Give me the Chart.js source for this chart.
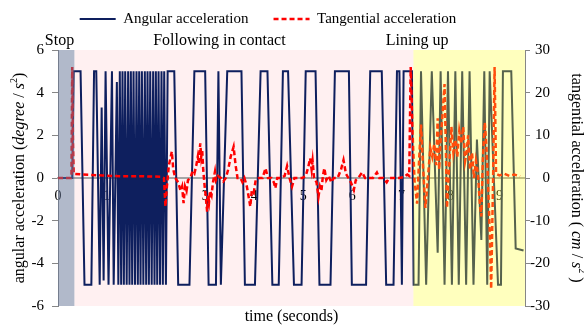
<!DOCTYPE html>
<html>
<head>
<meta charset="utf-8">
<script src="https://cdn.jsdelivr.net/npm/chart.js@4.4.1/dist/chart.umd.min.js"></script>
<style>
  body { margin: 0; background: #fff; }
  #wrap { width: 584px; height: 326px; }
</style>
</head>
<body>
<div id="wrap"><canvas id="chart"></canvas></div>
<script>
// ==============================
// DATA  (time in seconds)
// ==============================
// angular acceleration, degree / s^2  [t, value]
const angularSeries = [
    [0, 0], [0.29, 0], [0.32, 5], [0.46, 5], [0.54, -5], [0.68, -5], [0.735, 5], [0.78, 5],
    [0.85, -5], [0.89, 3.3], [0.93, -4.8], [0.97, 5], [1.03, -5], [1.10, 5], [1.135, -5],
    [1.20, 4.5], [1.23, -5],
    [1.26, 5], [1.2875, -5], [1.315, 5], [1.3425, -5], [1.37, 5], [1.40, -5], [1.43, 5],
    [1.4575, -5], [1.485, 5], [1.5125, -5], [1.54, 5], [1.57, -5], [1.60, 5], [1.6275, -5],
    [1.655, 5], [1.6825, -5], [1.71, 5], [1.74, -5], [1.77, 5], [1.7975, -5], [1.825, 5],
    [1.8525, -5], [1.88, 5], [1.91, -5], [1.94, 5], [1.9675, -5], [1.995, 5], [2.0225, -5],
    [2.05, 5], [2.08, -5], [2.11, 5], [2.1375, -5], [2.165, 5], [2.20, -5],
    [2.235, 5], [2.37, 5], [2.45, -5], [2.68, -5], [2.78, 5], [3.0, 5], [3.07, -5], [3.22, -5],
    [3.27, 5], [3.32, -5], [3.45, 5], [3.74, 5], [3.81, -5], [4.015, -5], [4.13, 5], [4.27, 5],
    [4.37, -5], [4.5, -5], [4.585, 5], [4.69, 5], [4.81, -5], [4.965, -5], [5.05, 5], [5.25, 5],
    [5.33, -5], [5.555, -5], [5.645, 5], [5.93, 5], [5.99, -5], [6.28, -5], [6.365, 5], [6.6, 5],
    [6.69, -5], [6.84, -5], [6.91, 5], [6.96, 5], [7.01, -5], [7.045, 5], [7.215, 5], [7.25, -5],
    [7.35, -5], [7.40, 5], [7.505, -5], [7.62, 5], [7.74, -3.5], [7.80, 5], [7.88, -5], [7.95, 5],
    [8.03, -5], [8.10, 5], [8.17, -5], [8.24, 5], [8.32, -5], [8.39, 5], [8.47, -5], [8.54, 1.8],
    [8.63, -2.9], [8.69, 5], [8.75, -5], [8.80, 5], [8.97, -5], [9.03, -5], [9.07, 5], [9.24, 5],
    [9.33, -3.3], [9.49, -3.4]
];

// tangential acceleration, cm / s^2  [t, value]
const tangentialSeries = [
    [0, 0], [0.26, 0], [0.275, 1], [0.29, 26], [0.305, 8], [0.32, 1], [0.5, 0.8], [0.9, 0.6],
    [1.3, 0.4], [1.7, 0.4], [2.1, 0.3], [2.16, 0], [2.19, -6.7], [2.22, -2], [2.26, 3], [2.29, 4.5],
    [2.32, 6.2], [2.35, 2], [2.39, 0], [2.45, -1], [2.5, -3], [2.53, -2], [2.56, -5.9], [2.59, -2],
    [2.62, -3], [2.65, -0.5], [2.7, 0], [2.74, 1.5], [2.78, 1], [2.82, 3], [2.85, 5], [2.87, 3.5],
    [2.9, 8.1], [2.92, 5], [2.94, 6.5], [2.96, 2], [2.99, -2], [3.01, -4], [3.04, -7.9], [3.06, -4],
    [3.08, -5.5], [3.1, -3], [3.13, -4], [3.16, -1], [3.2, 1.5], [3.22, -0.5], [3.26, 0.5], [3.32, 0],
    [3.37, -0.8], [3.42, 0], [3.47, 2], [3.52, 5], [3.58, 7.3], [3.62, 3], [3.66, 0], [3.72, 0],
    [3.76, -1], [3.8, 0], [3.85, -2], [3.88, -4], [3.92, -6.7], [3.95, -3], [3.99, -3.5], [4.03, -0.5],
    [4.1, 0], [4.17, 0], [4.23, 2.3], [4.28, 0], [4.35, 0], [4.4, -1], [4.43, -2.4], [4.47, 0],
    [4.55, 0], [4.62, 0.5], [4.67, 2.8], [4.72, 0], [4.77, -2], [4.82, 0], [4.9, 0], [4.98, 0],
    [5.05, 0.5], [5.1, 2.5], [5.14, 4.6], [5.17, 2], [5.19, 4], [5.22, 0], [5.27, -1], [5.31, -4.4],
    [5.34, -2], [5.37, -3], [5.4, 0.5], [5.43, 2.3], [5.47, -0.5], [5.52, 0.5], [5.57, -1], [5.62, 0],
    [5.7, 0], [5.77, 2], [5.82, 4.2], [5.87, 1], [5.92, 0], [5.97, -1], [6.03, -2.8], [6.07, -0.5],
    [6.12, 0], [6.2, 1.3], [6.26, 0], [6.35, 0], [6.42, 0], [6.5, 1.3], [6.55, 0], [6.63, 0],
    [6.7, -1], [6.75, 0], [6.85, 0], [6.95, 0], [7.05, 0.2], [7.12, 0.8], [7.16, 0.5], [7.19, 26],
    [7.23, 10], [7.27, -1], [7.32, -6], [7.36, 4], [7.40, 12.5], [7.44, 3], [7.49, -7], [7.54, 0],
    [7.59, 7], [7.63, 5], [7.67, 8], [7.71, 3], [7.74, 14], [7.77, 2], [7.80, 9], [7.84, 15],
    [7.88, 22], [7.91, 5], [7.93, -7], [7.97, 2], [8.02, 12], [8.06, 6], [8.10, 9], [8.14, 5],
    [8.18, 11], [8.22, 8], [8.26, 12], [8.30, 4], [8.33, 6], [8.36, 10], [8.40, 2], [8.44, 6],
    [8.48, 0], [8.52, 4], [8.56, 1], [8.60, -6], [8.63, -9], [8.66, 4], [8.70, 13], [8.73, 8],
    [8.76, 1], [8.80, -12], [8.83, -26], [8.87, 0], [8.90, 26], [8.93, 1], [9.0, 0.6], [9.1, 1],
    [9.2, 0.5], [9.3, 0.8], [9.42, 0.4]
];

// motion phases
const phaseNames = ["Stop", "Following in contact", "Lining up"];
const phaseStart = [0, 0.334, 7.245];
const phaseEnd = [0.334, 7.245, 9.52];
const phaseLabelAt = [0.03, 3.29, 7.32];

// axis ranges / ticks
const timeMax = 9.52;
const angTicks = [-6, 6, 2];     // min, max, step
const tanTicks = [-30, 30, 10];

// ==============================
// HELPERS
// ==============================
const SERIF = "'Liberation Serif', 'Times New Roman', serif";
const toXY = pts => pts.map(p => ({ x: p[0], y: p[1] }));

// text made of runs with their own font, centred on (x, y) and rotated
function drawRuns(ctx, runs, x, y, angle) {
    ctx.save();
    ctx.translate(x, y);
    ctx.rotate(angle);
    ctx.textAlign = "left";
    ctx.textBaseline = "alphabetic";
    ctx.fillStyle = "#000";
    let total = 0;
    runs.forEach(r => { ctx.font = r.font; total += ctx.measureText(r.text).width; });
    let cx = -total / 2;
    runs.forEach(r => {
        ctx.font = r.font;
        ctx.fillText(r.text, cx, 5.5 + (r.dy || 0));
        cx += ctx.measureText(r.text).width;
    });
    ctx.restore();
}

const N = "16px " + SERIF, I = "italic 16px " + SERIF, SUP = "10px " + SERIF;

const angTitle = [
    { text: "angular acceleration (", font: N },
    { text: "degree", font: I },
    { text: " / ", font: N },
    { text: "s", font: I },
    { text: "2", font: SUP, dy: -7 },
    { text: ")", font: N }
];
const tanTitle = [
    { text: "tangential acceleration ( ", font: N },
    { text: "cm", font: I },
    { text: " / ", font: N },
    { text: "s", font: I },
    { text: "2", font: SUP, dy: -7 },
    { text: " )", font: N }
];

// legend entries: dataset order, with the dataset's own dash and width
function legendLabels(chart) {
    const items = Chart.defaults.plugins.legend.labels.generateLabels(chart);
    items.forEach(it => {
        const ds = chart.data.datasets[it.datasetIndex];
        it.lineDash = ds.borderDash || [];
        it.lineWidth = ds.borderWidth;
        it.strokeStyle = ds.borderColor;
    });
    return items.sort((a, b) => a.datasetIndex - b.datasetIndex);
}

// ==============================
// PHASE SHADING + TITLES
// ==============================
const phasePlugin = {
    id: "phases",
    beforeDraw(chart) {
        // keep the legend line above the phase names
        const lg = chart.legend;
        lg.top = -13.5;
        lg.left = 0;
        lg.right = 536;

        const { ctx, chartArea: a, scales: { x } } = chart;
        const x0 = x.getPixelForValue(phaseStart[1]);
        const x1 = x.getPixelForValue(phaseEnd[1]);
        ctx.save();
        ctx.fillStyle = "#fff0f1";
        ctx.fillRect(x0, a.top, x1 - x0, a.bottom - a.top);
        ctx.restore();
    },
    afterDatasetsDraw(chart) {
        const { ctx, chartArea: a, scales: { x } } = chart;
        const tints = ["rgba(100,115,150,0.5)", null, "rgba(255,255,40,0.3)"];
        ctx.save();
        tints.forEach((c, i) => {
            if (!c) return;
            const x0 = x.getPixelForValue(phaseStart[i]);
            const x1 = x.getPixelForValue(phaseEnd[i]);
            ctx.fillStyle = c;
            ctx.fillRect(x0, a.top, x1 - x0, a.bottom - a.top);
        });
        ctx.restore();
    },
    afterDraw(chart) {
        const { ctx, chartArea: a, scales: { x } } = chart;
        ctx.save();
        ctx.fillStyle = "#000";
        ctx.font = "16px " + SERIF;
        ctx.textAlign = "center";
        ctx.textBaseline = "alphabetic";
        phaseNames.forEach((name, i) => {
            ctx.fillText(name, x.getPixelForValue(phaseLabelAt[i]), 45);
        });
        ctx.fillText("time (seconds)", (a.left + a.right) / 2, 321);
        ctx.restore();

        drawRuns(ctx, angTitle, 18, (a.top + a.bottom) / 2, -Math.PI / 2);
        drawRuns(ctx, tanTitle, 577, (a.top + a.bottom) / 2, Math.PI / 2);
    }
};

// ==============================
// CHART
// ==============================
Chart.defaults.font.family = SERIF;
Chart.defaults.color = "#000";

new Chart(document.getElementById("chart"), {
    type: "line",
    data: {
        datasets: [
            {
                label: "Angular acceleration",
                data: toXY(angularSeries),
                yAxisID: "y",
                borderColor: "#0e1f5e",
                borderWidth: 2,
                pointRadius: 0,
                tension: 0,
                order: 1
            },
            {
                label: "Tangential acceleration",
                data: toXY(tangentialSeries),
                yAxisID: "y2",
                borderColor: "#ff0000",
                borderWidth: 2.5,
                borderDash: [5, 3],
                pointRadius: 0,
                tension: 0,
                order: 0
            }
        ]
    },
    options: {
        responsive: true,
        maintainAspectRatio: false,
        animation: false,
        layout: { padding: { top: 0, left: 0, right: 34, bottom: 20 } },
        plugins: {
            tooltip: { enabled: false },
            legend: {
                position: "top",
                labels: {
                    usePointStyle: true,
                    pointStyle: "line",
                    pointStyleWidth: 36,
                    padding: 25,
                    font: { size: 15 },
                    color: "#000",
                    generateLabels: legendLabels
                }
            }
        },
        scales: {
            x: {
                type: "linear",
                position: { y: 0 },
                min: 0,
                max: timeMax,
                grid: { display: false, drawTicks: false },
                border: { display: true, color: "#a6a6a6", width: 2 },
                ticks: {
                    stepSize: 1,
                    includeBounds: false,
                    autoSkip: false,
                    maxRotation: 0,
                    padding: 10,
                    font: { size: 14 }
                }
            },
            y: {
                position: "left",
                min: angTicks[0],
                max: angTicks[1],
                afterFit(s) { s.width = 58; },
                grid: { drawOnChartArea: false, tickLength: 6, color: "#868686" },
                border: { color: "#868686" },
                ticks: { stepSize: angTicks[2], padding: 8, font: { size: 15 } }
            },
            y2: {
                position: "right",
                min: tanTicks[0],
                max: tanTicks[1],
                afterFit(s) { s.width = 25; },
                grid: { drawOnChartArea: false, tickLength: 5, color: "#868686" },
                border: { color: "#868686" },
                ticks: { stepSize: tanTicks[2], padding: 2, crossAlign: "far", font: { size: 15 } }
            }
        }
    },
    plugins: [phasePlugin]
});
</script>
</body>
</html>
